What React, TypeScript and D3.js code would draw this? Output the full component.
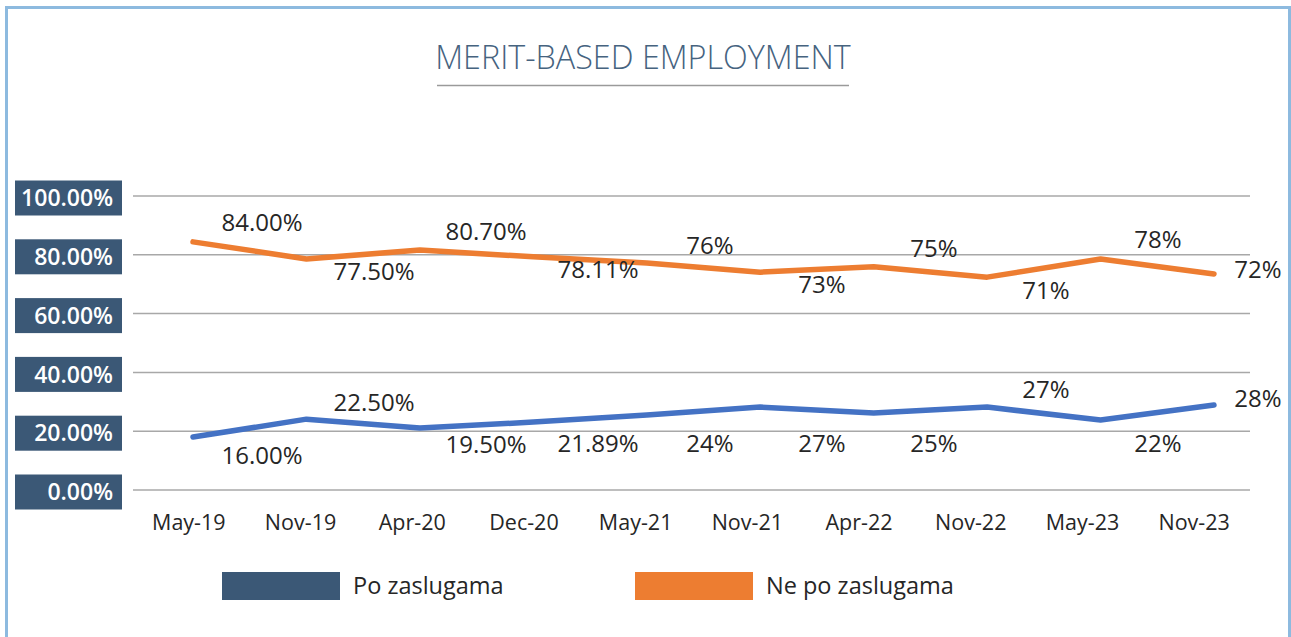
import React, { useEffect, useRef } from "react";
import * as d3 from "d3";

const periods = ["May-19", "Nov-19", "Apr-20", "Dec-20", "May-21", "Nov-21", "Apr-22", "Nov-22", "May-23", "Nov-23"];
const yTicks = [0, 20, 40, 60, 80, 100];

// plotted values (as drawn)
const meritValues = [18.0, 24.1, 21.1, 23.1, 25.5, 28.2, 26.2, 28.2, 23.8, 28.9];
const nonMeritValues = [84.4, 78.6, 81.6, 79.3, 77.2, 74.1, 75.9, 72.4, 78.6, 73.5];

// data labels as printed
const meritLabels = ["16.00%", "22.50%", "19.50%", "21.89%", "24%", "27%", "25%", "27%", "22%", "28%"];
const meritLabelValues = [16, 22.5, 19.5, 21.89, 24, 27, 25, 27, 22, 28];
const meritLabelPos = ["below", "above", "below", "below", "below", "below", "below", "above", "below", "right"];

const nonMeritLabels = ["84.00%", "77.50%", "80.70%", "78.11%", "76%", "73%", "75%", "71%", "78%", "72%"];
const nonMeritLabelValues = [84, 77.5, 80.7, 78.11, 76, 73, 75, 71, 78, 72];
const nonMeritLabelPos = ["above", "below", "above", "below", "above", "below", "above", "below", "above", "right"];

const legendNames = ["Po zaslugama", "Ne po zaslugama"];

const App: React.FC = () => {
  const svgRef = useRef<SVGSVGElement>(null);

  useEffect(() => {
    if (!svgRef.current) return;
    const svg = d3.select(svgRef.current);
    svg.selectAll("*").remove();

    const width = 1291;
    const height = 637;
    const font = "'Open Sans', sans-serif";

    svg.append("rect")
      .attr("width", width)
      .attr("height", height)
      .attr("fill", "#fff");

    // frame
    svg.append("rect")
      .attr("x", 6.5)
      .attr("y", 7.5)
      .attr("width", 1283)
      .attr("height", 660)
      .attr("fill", "none")
      .attr("stroke", "#8dbadf")
      .attr("stroke-width", 3);

    // title
    svg.append("text")
      .attr("x", 643)
      .attr("y", 69)
      .attr("text-anchor", "middle")
      .attr("font-family", font)
      .attr("font-weight", 300)
      .attr("font-size", 32.3)
      .attr("fill", "#46637f")
      .text("MERIT-BASED EMPLOYMENT");

    svg.append("line")
      .attr("x1", 437).attr("x2", 849)
      .attr("y1", 85.5).attr("y2", 85.5)
      .attr("stroke", "#9a9a9a")
      .attr("stroke-width", 1.5);

    const left = 133;
    const right = 1250;
    const y = d3.scaleLinear().domain([0, 100]).range([490, 196]);
    const xBand = d3.scaleBand<string>().domain(periods).range([left, right]);
    const xLine = d3.scalePoint<string>().domain(periods).range([193, 1214]);
    const xLabel = d3.scalePoint<string>().domain(periods).range([262, 1270]);

    // gridlines
    svg.append("g")
      .selectAll("line")
      .data(yTicks)
      .enter().append("line")
      .attr("x1", left)
      .attr("x2", right)
      .attr("y1", d => y(d))
      .attr("y2", d => y(d))
      .attr("stroke", "#a8a8a8")
      .attr("stroke-width", 1.5);

    // y tick boxes
    const tick = svg.append("g")
      .selectAll("g")
      .data(yTicks)
      .enter().append("g")
      .attr("transform", d => `translate(0,${y(d) + 2})`);

    tick.append("rect")
      .attr("x", 15)
      .attr("y", -17.5)
      .attr("width", 107)
      .attr("height", 35)
      .attr("fill", "#3b5876");

    tick.append("text")
      .attr("x", 113)
      .attr("dy", "0.36em")
      .attr("text-anchor", "end")
      .attr("font-family", font)
      .attr("font-weight", 600)
      .attr("font-size", 23)
      .attr("fill", "#fff")
      .text(d => `${d.toFixed(2)}%`);

    // x labels
    svg.append("g")
      .selectAll("text")
      .data(periods)
      .enter().append("text")
      .attr("x", d => (xBand(d) as number) + xBand.bandwidth() / 2)
      .attr("y", 530)
      .attr("text-anchor", "middle")
      .attr("font-family", font)
      .attr("font-size", 21.5)
      .attr("fill", "#262626")
      .text(d => d);

    const line = d3.line<number>()
      .x((_, i) => xLine(periods[i]) as number)
      .y(d => y(d));

    const series = [
      { values: meritValues, labels: meritLabels, labelValues: meritLabelValues, pos: meritLabelPos, color: "#4472c4", floor: 20 },
      { values: nonMeritValues, labels: nonMeritLabels, labelValues: nonMeritLabelValues, pos: nonMeritLabelPos, color: "#ed7d31", floor: null as number | null },
    ];

    series.forEach(s => {
      svg.append("path")
        .datum(s.values)
        .attr("d", line)
        .attr("fill", "none")
        .attr("stroke", s.color)
        .attr("stroke-width", 5.5)
        .attr("stroke-linecap", "round")
        .attr("stroke-linejoin", "round");

      svg.append("g")
        .selectAll("text")
        .data(s.labels)
        .enter().append("text")
        .attr("x", (_, i) => s.pos[i] === "right"
          ? (xLine(periods[i]) as number) + 44
          : (xLabel(periods[i]) as number))
        .attr("y", (_, i) => {
          const v = s.labelValues[i];
          if (s.pos[i] === "above") return y(v) - 21;
          if (s.pos[i] === "right") return y(v) - 9;
          if (s.floor !== null) return Math.max(y(v), y(s.floor)) + 12;
          return y(v) + 9;
        })
        .attr("dy", "0.36em")
        .attr("text-anchor", "middle")
        .attr("font-family", font)
        .attr("font-size", 24)
        .attr("fill", "#262626")
        .text(d => d);
    });

    // legend
    const legendColors = ["#3b5876", "#ed7d31"];
    const legend = svg.append("g")
      .selectAll("g")
      .data(legendNames)
      .enter().append("g")
      .attr("transform", (_, i) => `translate(${222 + i * 413},572)`);

    legend.append("rect")
      .attr("width", 118)
      .attr("height", 28)
      .attr("fill", (_, i) => legendColors[i]);

    legend.append("text")
      .attr("x", 131)
      .attr("y", 14)
      .attr("dy", "0.36em")
      .attr("font-family", font)
      .attr("font-size", 23.5)
      .attr("fill", "#262626")
      .text(d => d);
  }, []);

  return (
    <svg
      ref={svgRef}
      width={1291}
      height={637}
      style={{ position: "absolute", left: 0, top: 0 }}
    />
  );
};

export default App;
